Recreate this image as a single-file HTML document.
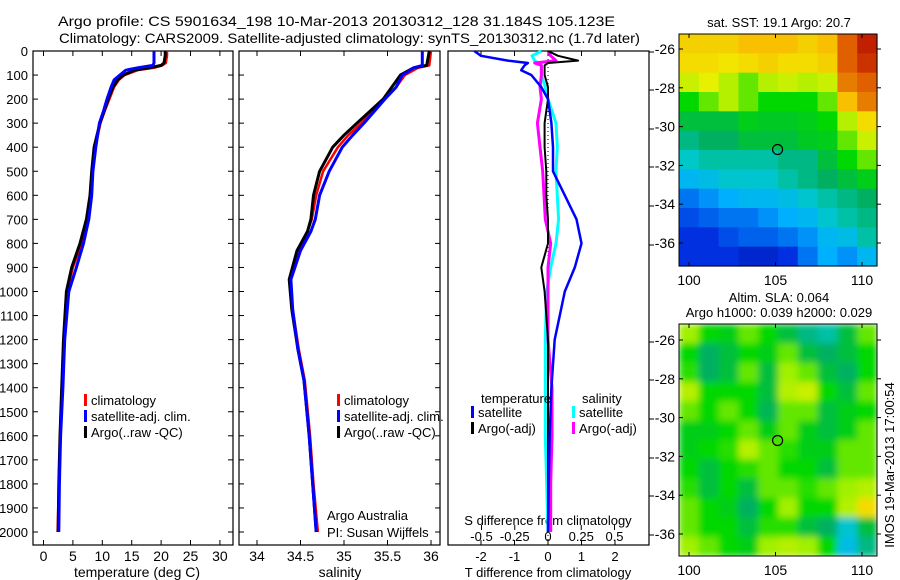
<!DOCTYPE html>
<html><head><meta charset="utf-8">
<style>
html,body{margin:0;padding:0;background:#fff;}
svg{display:block;font-family:"Liberation Sans",sans-serif;}
text{font-size:14px;fill:#000;}
text.sm{font-size:13px;}
</style></head>
<body>
<svg id="fig" width="900" height="580" viewBox="0 0 900 580">
<defs>
<filter id="blur" x="0" y="0" width="1" height="1"><feGaussianBlur stdDeviation="3.5" edgeMode="duplicate"/></filter>
<clipPath id="slaclip"><rect x="679" y="324" width="198" height="232"/></clipPath>
</defs>
<text x="58" y="26" textLength="557" lengthAdjust="spacingAndGlyphs">Argo profile: CS 5901634_198 10-Mar-2013 20130312_128 31.184S 105.123E</text>
<text x="59" y="43" textLength="581" lengthAdjust="spacingAndGlyphs">Climatology: CARS2009. Satellite-adjusted climatology: synTS_20130312.nc (1.7d later)</text>
<g id="g"></g>
</svg>
<script>
// ---- data ----
const depthsT = [0,20,50,60,70,80,100,120,150,200,250,300,400,500,600,700,800,900,1000,1200,1400,1600,1800,2000];
const tempArgo = [20.7,20.7,20.5,20,18,15.5,13.6,12.6,11.8,11,10.3,9.6,8.6,8.2,7.9,7.3,6.2,4.8,3.9,3.4,3.1,2.8,2.6,2.5];
const tempClim = [21.0,21.0,20.8,20.2,18.8,16,13.8,12.8,12,11.2,10.4,9.7,8.8,8.3,8.0,7.5,6.5,5.0,4.0,3.5,3.1,2.8,2.6,2.4];
const tempSat  = [18.8,18.8,18.8,18.6,16,14,13,12,11.5,10.8,10.2,9.5,8.9,8.4,8.2,7.7,6.8,5.6,4.3,3.6,3.3,2.9,2.7,2.6];
const depthsS = [0,60,70,90,100,150,200,250,300,350,400,500,600,700,750,830,950,1075,1240,1370,1600,1800,2000];
const salArgo = [35.98,35.95,35.8,35.7,35.65,35.55,35.45,35.3,35.15,35.0,34.87,34.72,34.65,34.62,34.58,34.46,34.37,34.4,34.47,34.54,34.6,34.64,34.68];
const salClim = [36.0,35.98,35.85,35.75,35.7,35.6,35.47,35.33,35.2,35.05,34.93,34.76,34.68,34.63,34.58,34.47,34.38,34.41,34.48,34.55,34.61,34.65,34.7];
const salSat  = [35.9,35.9,35.8,35.72,35.67,35.6,35.47,35.35,35.23,35.1,34.98,34.83,34.72,34.67,34.62,34.5,34.39,34.41,34.47,34.54,34.6,34.64,34.68];
const depthsD = [0,20,40,50,60,80,100,150,200,300,400,500,600,700,800,900,1000,1200,1400,1600,1800,2000];
const dTsat  = [-2.2,-2.0,-1.2,-0.6,-0.7,-0.8,-0.5,-0.2,0,0.1,0.15,0.15,0.5,0.85,1.0,0.8,0.5,0.2,0.1,0.05,0.02,0];
const dTargo = [0,0.3,0.9,0,-0.1,-0.1,-0.1,0,0,-0.1,-0.1,-0.05,-0.05,0,0,-0.2,-0.1,0,0,0,0,0];
const dSsat  = [-0.05,-0.12,-0.1,-0.08,-0.05,-0.05,-0.05,-0.02,0,0.06,0.07,0.06,0.07,0.08,0.06,0.02,-0.01,-0.02,-0.02,-0.02,-0.01,0];
const dSargo = [0,0.02,0.06,-0.1,-0.05,-0.05,-0.05,-0.06,-0.05,-0.08,-0.06,-0.04,-0.03,-0.02,0.02,0,0,0,0.03,0.03,0.02,0.02];
const depthTicks = [0,100,200,300,400,500,600,700,800,900,1000,1100,1200,1300,1400,1500,1600,1700,1800,1900,2000];
const tempTicks = [0,5,10,15,20,25,30];
const salTicks = [34,34.5,35,35.5,36];
const tdiffTicks = [-2,-1,0,1,2];
const sdiffTicks = [-0.5,-0.25,0,0.25,0.5];
const sdiffLabels = ["-0.5","-0.25","0","0.25","0.5"];
const latTicks = [-26,-28,-30,-32,-34,-36];
const lonTicks = [100,105,110];
// SST map (colour index 0..1), rows north->south, cols west->east
const sstGrid = [
[0.72,0.72,0.72,0.75,0.75,0.75,0.72,0.75,0.85,0.95],
[0.70,0.70,0.68,0.70,0.72,0.70,0.70,0.72,0.85,0.92],
[0.62,0.65,0.60,0.55,0.60,0.62,0.60,0.62,0.82,0.85],
[0.50,0.55,0.60,0.55,0.50,0.50,0.50,0.55,0.75,0.82],
[0.45,0.45,0.45,0.48,0.47,0.47,0.48,0.50,0.60,0.70],
[0.40,0.42,0.42,0.45,0.45,0.45,0.47,0.48,0.55,0.62],
[0.36,0.38,0.38,0.38,0.38,0.40,0.40,0.45,0.50,0.55],
[0.30,0.32,0.35,0.35,0.35,0.38,0.40,0.42,0.45,0.48],
[0.22,0.25,0.28,0.30,0.30,0.32,0.35,0.38,0.40,0.42],
[0.18,0.20,0.22,0.22,0.25,0.28,0.30,0.35,0.38,0.40],
[0.15,0.15,0.18,0.20,0.20,0.22,0.25,0.30,0.32,0.38],
[0.15,0.15,0.15,0.12,0.12,0.15,0.22,0.28,0.25,0.30]];
const slaGrid = [
[0.58,0.50,0.48,0.55,0.50,0.45,0.40,0.38,0.45,0.55],
[0.50,0.42,0.45,0.50,0.48,0.55,0.45,0.42,0.45,0.50],
[0.52,0.42,0.45,0.55,0.45,0.58,0.55,0.45,0.42,0.50],
[0.60,0.50,0.50,0.50,0.45,0.60,0.62,0.50,0.45,0.55],
[0.55,0.50,0.55,0.50,0.43,0.55,0.55,0.45,0.48,0.50],
[0.48,0.48,0.50,0.55,0.48,0.55,0.48,0.45,0.48,0.55],
[0.48,0.50,0.52,0.60,0.55,0.52,0.48,0.48,0.55,0.55],
[0.50,0.45,0.50,0.52,0.55,0.50,0.50,0.45,0.55,0.55],
[0.52,0.45,0.50,0.45,0.55,0.55,0.52,0.55,0.58,0.60],
[0.55,0.50,0.48,0.42,0.50,0.58,0.50,0.50,0.60,0.70],
[0.55,0.50,0.50,0.45,0.52,0.52,0.45,0.42,0.35,0.45],
[0.58,0.55,0.50,0.48,0.58,0.60,0.58,0.50,0.32,0.40]];

// ---- helpers ----
const NS="http://www.w3.org/2000/svg";
const G=document.getElementById('g');
function mk(tag,at,name,parent){const e=document.createElementNS(NS,tag);for(const k in at)e.setAttribute(k,at[k]);


(parent||G).appendChild(e);return e;}
function txt(x,y,s,name,anchor,cls){const t=mk('text',{x:x,y:y,'text-anchor':anchor||'start'},name);if(cls)t.setAttribute('class',cls);t.textContent=s;return t;}
const yD=d=>51+d*0.2405;
const xT=v=>43.5+v*5.88;
const xS=v=>257+(v-34)*87;
const xTd=v=>548+v*33.5;
const xSd=v=>548+v*133;
function profile(depths,vals,xf,color,w,name){
  let p='';for(let i=0;i<depths.length;i++){p+=(i?'L':'M')+xf(vals[i]).toFixed(1)+','+yD(depths[i]).toFixed(1);}
  mk('path',{d:p,fill:'none',stroke:color,'stroke-width':w,'stroke-linejoin':'round'},name);
}
function frame(x0,x1,name){mk('rect',{x:x0,y:51,width:x1-x0,height:494,fill:'none',stroke:'#000','stroke-width':1.2},name);}

// panel 1
frame(33,233,'temperature-panel');
depthTicks.forEach(d=>{mk('line',{x1:33,x2:38,y1:yD(d),y2:yD(d),stroke:'#000'},'depth-tick');
 mk('line',{x1:228,x2:233,y1:yD(d),y2:yD(d),stroke:'#000'},'depth-tick');
 txt(28,yD(d)+5,String(d),'depth-tick-label','end','sm');});
tempTicks.forEach(v=>{mk('line',{x1:xT(v),x2:xT(v),y1:51,y2:56,stroke:'#000'},'temp-tick');
 mk('line',{x1:xT(v),x2:xT(v),y1:540,y2:545,stroke:'#000'},'temp-tick');
 txt(xT(v),561,String(v),'temp-tick-label','middle');});
txt(137,577,'temperature (deg C)','temperature-axis-title','middle');
profile(depthsT,tempClim,xT,'#f00',2.5,'temp-climatology-line');
profile(depthsT,tempArgo,xT,'#000',3,'temp-argo-line');
profile(depthsT,tempSat,xT,'#00f',3,'temp-satellite-line');

// panel 2
frame(239,440,'salinity-panel');
depthTicks.forEach(d=>{mk('line',{x1:239,x2:244,y1:yD(d),y2:yD(d),stroke:'#000'},'depth-tick');
 mk('line',{x1:435,x2:440,y1:yD(d),y2:yD(d),stroke:'#000'},'depth-tick');});
salTicks.forEach(v=>{mk('line',{x1:xS(v),x2:xS(v),y1:51,y2:56,stroke:'#000'},'sal-tick');
 mk('line',{x1:xS(v),x2:xS(v),y1:540,y2:545,stroke:'#000'},'sal-tick');
 txt(xS(v),561,String(v),'sal-tick-label','middle');});
txt(340,577,'salinity','salinity-axis-title','middle');
profile(depthsS,salClim,xS,'#f00',2.5,'sal-climatology-line');
profile(depthsS,salArgo,xS,'#000',3,'sal-argo-line');
profile(depthsS,salSat,xS,'#00f',3,'sal-satellite-line');
txt(327,520,'Argo Australia','credit-line-1','start','sm');
txt(327,537,'PI: Susan Wijffels','credit-line-2','start','sm');

// legends 1 & 2
[['#f00','climatology'],['#00f','satellite-adj. clim.'],['#000','Argo(..raw -QC)']].forEach((l,i)=>{
 [84,337].forEach(x=>{mk('rect',{x:x,y:394+i*16,width:3,height:12,fill:l[0]},'legend-swatch');
 txt(x+7,405+i*16,l[1],'legend-entry','start','sm');});});

// panel 3
frame(448,649,'difference-panel');
[52,90,129,167,206,245,342,380,419,458,496,535].forEach(y=>mk('line',{x1:649,x2:654,y1:y,y2:y,stroke:'#000'},'right-tick'));
tdiffTicks.forEach(v=>{mk('line',{x1:xTd(v),x2:xTd(v),y1:51,y2:56,stroke:'#000'},'tdiff-tick');
 mk('line',{x1:xTd(v),x2:xTd(v),y1:540,y2:545,stroke:'#000'},'tdiff-tick');
 txt(xTd(v),561,String(v),'tdiff-tick-label','middle','sm');});
sdiffTicks.forEach((v,i)=>{mk('line',{x1:xSd(v),x2:xSd(v),y1:525,y2:530,stroke:'#000'},'sdiff-tick');
 txt(xSd(v),541,sdiffLabels[i],'sdiff-tick-label','middle','sm');});
txt(548,577,'T difference from climatology','tdiff-axis-title','middle','sm');
txt(548,525,'S difference from climatology','sdiff-axis-title','middle','sm');
mk('line',{x1:548,x2:548,y1:51,y2:545,stroke:'#000','stroke-dasharray':'1,3'},'zero-line');
profile(depthsD,dSsat,xSd,'#0ff',3,'sdiff-satellite-line');
profile(depthsD,dSargo,xSd,'#f0f',3,'sdiff-argo-line');
profile(depthsD,dTargo,xTd,'#000',2,'tdiff-argo-line');
profile(depthsD,dTsat,xTd,'#00f',2.5,'tdiff-satellite-line');
txt(481,403,'temperature','legend-temperature-header','start','sm');
txt(582,403,'salinity','legend-salinity-header','start','sm');
[['#00f','satellite',471],['#000','Argo(-adj)',471],['#0ff','satellite',572],['#f0f','Argo(-adj)',572]].forEach((l,i)=>{
 const r=i%2;mk('rect',{x:l[2],y:406+r*16,width:3,height:12,fill:l[0]},'legend-swatch');
 txt(l[2]+7,417+r*16,l[1],'legend-entry','start','sm');});

// colour map
const stops=[[0,[0,0,128]],[0.15,[0,48,224]],[0.28,[0,176,255]],[0.36,[0,200,200]],[0.42,[0,176,96]],[0.5,[0,216,0]],[0.58,[160,240,0]],[0.66,[240,240,0]],[0.75,[248,192,0]],[0.85,[224,96,0]],[0.95,[192,32,0]],[1,[144,0,0]]];
function cmap(v){v=Math.max(0,Math.min(1,v));
 for(let i=1;i<stops.length;i++){if(v<=stops[i][0]){const a=stops[i-1],b=stops[i],t=(v-a[0])/(b[0]-a[0]);
  return 'rgb('+a[1].map((c,k)=>Math.round(c+(b[1][k]-c)*t)).join(',')+')';}}
 return 'rgb(144,0,0)';}
function map(grid,y0,name,lat0,smooth){
 const x0=679,x1=877,h=232;const xL=lon=>689+(lon-100)*17.3;const yL=lat=>lat0+(-26-lat)*19.4;
 let par=G;
 if(smooth){const c=mk('g',{'clip-path':'url(#slaclip)'},name+'-clip');par=mk('g',{filter:'url(#blur)'},name+'-cells',c);}
 const rows=grid.length,cols=grid[0].length,cw=(x1-x0)/cols,ch=h/rows;
 grid.forEach((row,i)=>row.forEach((v,j)=>mk('rect',{x:(x0+j*cw).toFixed(2),y:(y0+i*ch).toFixed(2),width:(cw+0.6).toFixed(2),height:(ch+0.6).toFixed(2),fill:cmap(v)},name+'-cell',par)));
 mk('rect',{x:x0,y:y0,width:x1-x0,height:h,fill:'none',stroke:'#000'},name+'-frame');
 latTicks.forEach(l=>{mk('line',{x1:x0,x2:x0+4,y1:yL(l),y2:yL(l),stroke:'#000'},'lat-tick');
  mk('line',{x1:x1,x2:x1+4,y1:yL(l),y2:yL(l),stroke:'#000'},'lat-tick');
  txt(x0-4,yL(l)+5,String(l),'lat-tick-label','end');});
 lonTicks.forEach(l=>{mk('line',{x1:xL(l),x2:xL(l),y1:y0,y2:y0+4,stroke:'#000'},'lon-tick');
  mk('line',{x1:xL(l),x2:xL(l),y1:y0+h-4,y2:y0+h,stroke:'#000'},'lon-tick');
  txt(xL(l),y0+h+19,String(l),'lon-tick-label','middle');});
 mk('circle',{cx:xL(105.12),cy:yL(-31.18),r:5,fill:'none',stroke:'#000','stroke-width':1.2},name+'-argo-location');
}
map(sstGrid,34,'sst-map',49,false);
map(slaGrid,324,'sla-map',340,true);
txt(779,27,'sat. SST: 19.1 Argo: 20.7','sst-map-title','middle','sm');
txt(779,302,'Altim. SLA: 0.064','sla-map-title-1','middle','sm');
txt(779,317,'Argo h1000: 0.039 h2000: 0.029','sla-map-title-2','middle','sm');
const side=txt(0,0,'IMOS 19-Mar-2013 17:00:54','imos-timestamp','middle','sm');
side.setAttribute('transform','translate(894,465) rotate(-90)');
</script>
</body></html>
